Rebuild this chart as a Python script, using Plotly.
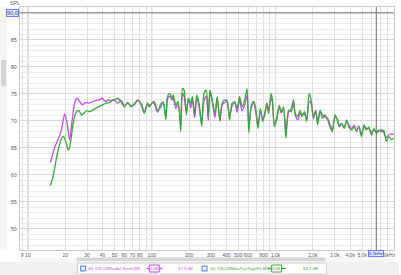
import plotly.graph_objects as go

# ---------------- data ----------------
freq_low_46 = [15.2, 16.5, 17.5, 18.6, 19.8, 20.7, 21.7, 22.8, 23.8, 24.9, 26.1, 27.5,
               29.2, 31.0, 33.4, 35.5, 37.8, 39.8, 42.3, 45.0, 47.0, 49.0]
spl_low_46 = [62.3, 65.2, 66.5, 68.3, 71.3, 69.6, 66.5, 70.2, 73.3, 74.2, 73.6, 73.0,
              73.4, 73.3, 73.6, 73.8, 73.9, 74.2, 73.6, 73.9, 73.6, 74.0]

freq_low_50 = [15.2, 16.0, 16.9, 17.9, 18.7, 19.3, 20.2, 21.2, 21.8, 22.4, 23.5, 24.6,
               25.8, 27.0, 28.3, 29.6, 31.4, 33.4, 35.5, 37.8, 40.2, 42.8, 45.5, 47.9, 50.0]
spl_low_50 = [58.0, 59.8, 62.8, 65.4, 66.8, 67.2, 66.2, 64.6, 65.2, 67.1, 70.2, 71.7,
              71.9, 71.1, 71.4, 71.9, 71.7, 72.0, 72.4, 72.7, 73.0, 73.3, 73.4, 73.8, 73.9]

freq_hi = [53, 56.7, 60, 64, 68, 72.4, 77, 82, 87, 92.5,
           95.5, 101.5, 104.7, 111.3, 118.6, 123.7, 130.1, 134.0, 140.1, 145.3, 148.9,
           156.5, 163.3, 171.6, 176.8, 182.4, 190.3, 197.5, 206.4, 212.7, 222.3, 230.7,
           240.7, 253.0, 264.1, 275.6, 285.9, 295.1, 307.9, 323.6, 337.7, 354.9, 370.4,
           389.4, 406.3, 424.8, 445.7, 468.5, 489.0, 511.1, 536.3, 563.7, 588.2, 607.0,
           633.4, 665.8, 694.8, 721.0, 753.7, 786.5, 815.9, 851.4,
           877, 920, 942, 976, 1018, 1071, 1111, 1159, 1210, 1272, 1337, 1395, 1439,
           1511, 1579, 1626, 1710, 1784, 1865, 1935, 2020, 2107, 2187, 2286, 2385,
           2507, 2631, 2751, 2870, 3017, 3148, 3267, 3408, 3583, 3739, 3909, 4103,
           4311, 4498, 4702, 4935, 5187, 5413, 5656, 5936, 6240, 6512, 6808, 7143,
           7467, 7834, 8191, 8594, 9032]

spl_hi_46 = [73.3, 73.8, 72.8, 73.3, 72.8, 73.0, 73.8, 73.3, 71.7, 73.3,
             72.9, 73.4, 73.2, 71.6, 73.2, 73.3, 70.6, 74.1, 74.6, 73.9, 74.2,
             72.3, 73.0, 69.2, 75.2, 74.5, 71.6, 74.0, 72.4, 74.1, 70.6, 74.3,
             72.8, 69.7, 73.8, 74.6, 70.1, 75.3, 73.5, 70.6, 74.2, 69.9, 73.0,
             73.4, 73.8, 70.8, 72.8, 73.3, 71.6, 73.9, 71.9, 73.1, 74.7, 69.4,
             72.2, 73.4, 71.2, 69.0, 71.9, 70.3, 71.0, 73.3,
             71.8, 74.2, 73.6, 69.6, 70.4, 72.6, 71.5, 72.3, 67.8, 71.6, 72.3, 73.9, 71.2,
             70.2, 71.6, 71.2, 71.3, 70.3, 73.6, 73.3, 70.4, 72.0, 69.8, 71.8, 71.2,
             70.7, 70.5, 69.3, 68.4, 70.6, 70.4, 69.2, 69.4, 68.9, 69.8, 69.2, 68.6,
             69.2, 68.0, 69.1, 67.6, 68.8, 68.6, 68.6, 67.9, 68.3, 68.0, 68.1, 68.4,
             67.8, 66.9, 67.4, 67.6, 67.5]

spl_hi_50 = [74.2, 73.5, 72.6, 73.5, 72.6, 73.2, 73.9, 73.0, 71.4, 73.2,
             72.6, 73.4, 73.6, 72.0, 72.6, 73.6, 70.2, 74.5, 75.1, 74.2, 74.8,
             72.9, 73.6, 68.0, 76.0, 75.7, 71.1, 74.2, 73.3, 74.5, 71.1, 74.8,
             73.3, 69.0, 75.1, 75.7, 70.8, 75.7, 73.9, 71.4, 74.5, 70.2, 73.3,
             73.9, 73.6, 70.2, 73.3, 73.6, 72.3, 74.5, 72.6, 73.9, 76.0, 67.8,
             72.6, 73.6, 72.0, 68.6, 72.3, 69.9, 71.4, 73.3,
             71.4, 75.1, 73.9, 68.9, 70.2, 72.9, 71.7, 72.6, 66.8, 72.0, 71.7, 73.5, 71.4,
             70.8, 72.0, 70.8, 71.7, 69.9, 75.1, 73.9, 70.8, 71.7, 69.3, 72.0, 70.5,
             71.1, 70.2, 68.9, 68.0, 71.1, 70.2, 68.9, 69.6, 68.6, 70.2, 68.9, 68.3,
             68.9, 68.3, 68.9, 67.1, 69.3, 68.3, 68.9, 67.4, 68.6, 67.7, 68.3, 68.0,
             68.3, 66.2, 67.1, 66.6, 66.8]

x_tick_vals = [9, 10, 20, 30, 40, 50, 60, 70, 80, 100, 200, 300, 400, 500, 600, 800,
               1000, 2000, 3000, 4000, 5000, 6000, 8000]
x_tick_text = ["9", "10", "20", "30", "40", "50", "60", "70", "80", "100", "200", "300",
               "400", "500", "600", "800", "1,0k", "2,0k", "3,0k", "4,0k", "5,0k", "6", "8,0kHz"]
x_minor_vals = [90, 700, 900, 7000, 9000]
y_tick_vals = [50, 55, 60, 65, 70, 75, 80, 85, 90]
y_tick_text = ["50", "55", "60", "65", "70", "75", "80", "85", ""]

name_46 = "46: DSC08Radtal-Sonif-M8"
name_50 = "50: DSC08WasPanTagaFe-M1"
level_46 = "67,3 dB"
level_50 = "66,2 dB"
smooth_txt = "1/48"

# ---------------- layout constants ----------------
W, H = 401, 275
L, R, T, B = 20, 5, 7, 25
PW, PH = W - L - R, H - T - B
PURPLE = "#c04ee0"
GREEN = "#38a838"
FONT = "Liberation Sans"


def px(xp):
    return (xp - L) / PW


def py(yp):
    return (H - B - yp) / PH


fig = go.Figure()
fig.add_trace(go.Scatter(x=freq_low_46 + freq_hi, y=spl_low_46 + spl_hi_46, mode="lines",
                         line=dict(color=PURPLE, width=1.3, shape="spline", smoothing=0.7),
                         name=name_46, hoverinfo="skip"))
fig.add_trace(go.Scatter(x=freq_low_50 + freq_hi, y=spl_low_50 + spl_hi_50, mode="lines",
                         line=dict(color=GREEN, width=1.3, shape="spline", smoothing=0.7),
                         name=name_50, hoverinfo="skip"))

shapes = []
# decade grid lines (darker)
for d in [10, 100, 1000]:
    shapes.append(dict(type="line", xref="x", yref="paper", x0=d, x1=d, y0=0, y1=1,
                       line=dict(color="#b4b4b4", width=1), layer="below"))
# cursor line
shapes.append(dict(type="line", xref="x", yref="paper", x0=6500, x1=6500, y0=0, y1=1,
                   line=dict(color="#6a6a6a", width=1)))
# 90 dB line
shapes.append(dict(type="line", xref="paper", yref="y", x0=0, x1=1, y0=90, y1=90,
                   line=dict(color="#8c8c8c", width=1.2)))
# left scrollbar
shapes.append(dict(type="rect", xref="paper", yref="paper", x0=px(0), x1=px(7), y0=py(250), y1=py(7),
                   fillcolor="#f5f5f5", line=dict(width=0), layer="below"))
shapes.append(dict(type="rect", xref="paper", yref="paper", x0=px(1), x1=px(6), y0=py(86), y1=py(60),
                   fillcolor="#d2d2d2", line=dict(width=0), layer="below"))
# bottom strip and scrollbar
shapes.append(dict(type="rect", xref="paper", yref="paper", x0=px(0), x1=px(401), y0=py(275), y1=py(262),
                   fillcolor="#f0f0f0", line=dict(width=0), layer="below"))
shapes.append(dict(type="rect", xref="paper", yref="paper", x0=px(20), x1=px(396), y0=py(262), y1=py(257.5),
                   fillcolor="#f6f6f6", line=dict(width=0), layer="below"))
shapes.append(dict(type="rect", xref="paper", yref="paper", x0=px(77), x1=px(327), y0=py(261), y1=py(257.5),
                   fillcolor="#d6d6d6", line=dict(width=0), layer="below"))
# legend box
shapes.append(dict(type="rect", xref="paper", yref="paper", x0=px(78), x1=px(328), y0=py(274), y1=py(263),
                   fillcolor="white", line=dict(color="#cfcfcf", width=1), layer="below"))
# checkboxes
for cx in [81, 203]:
    shapes.append(dict(type="rect", xref="paper", yref="paper", x0=px(cx), x1=px(cx + 5),
                       y0=py(271), y1=py(266), fillcolor="#eaf1ff", line=dict(color="#4f7fd6", width=1)))
# legend line samples with boxes
for (x0, x1, bx0, bx1, col) in [(147, 163, 150, 160, PURPLE), (269, 287, 273, 283, GREEN)]:
    shapes.append(dict(type="line", xref="paper", yref="paper", x0=px(x0), x1=px(x1),
                       y0=py(268.5), y1=py(268.5), line=dict(color=col, width=1.3)))
    shapes.append(dict(type="rect", xref="paper", yref="paper", x0=px(bx0), x1=px(bx1),
                       y0=py(272), y1=py(265), fillcolor="white", line=dict(color=col, width=1)))

ann = []
small = dict(family=FONT, size=5.5, color="#555555")
ann.append(dict(text="SPL", xref="paper", yref="paper", x=px(15), y=py(3), showarrow=False,
                font=small, xanchor="center", yanchor="middle"))
ann.append(dict(text="90,0", xref="paper", yref="y", x=px(19), y=90, showarrow=False,
                font=dict(family=FONT, size=5.5, color="#3344aa"), xanchor="right", yanchor="middle",
                bgcolor="#dfe5ff", bordercolor="#6a7cf0", borderwidth=1, borderpad=0))
ann.append(dict(text="6,5kHz", xref="x", yref="paper", x=3.8129, y=py(254), showarrow=False,
                font=dict(family=FONT, size=4.4, color="#3344aa"), xanchor="center", yanchor="middle",
                bgcolor="#dfe5ff", bordercolor="#6a7cf0", borderwidth=1, borderpad=0))
for (txt, xx, col) in [(name_46, 86, PURPLE), (level_46, 177, PURPLE),
                       (name_50, 209, GREEN), (level_50, 302, GREEN)]:
    ann.append(dict(text=txt, xref="paper", yref="paper", x=px(xx), y=py(268.5), showarrow=False,
                    font=dict(family=FONT, size=4.3, color=col), xanchor="left", yanchor="middle"))
for (txt, xx, col) in [(smooth_txt, 155, PURPLE), (smooth_txt, 278, GREEN)]:
    ann.append(dict(text=txt, xref="paper", yref="paper", x=px(xx), y=py(268.5), showarrow=False,
                    font=dict(family=FONT, size=4.2, color=col), xanchor="center", yanchor="middle"))

fig.update_layout(
    width=W, height=H,
    margin=dict(l=L, r=R, t=T, b=B, pad=0),
    paper_bgcolor="white", plot_bgcolor="white",
    showlegend=False,
    shapes=shapes, annotations=ann,
    xaxis=dict(type="log", range=[0.936, 3.956], tickmode="array",
               tickvals=x_tick_vals, ticktext=x_tick_text, tickangle=0,
               tickfont=dict(family=FONT, size=5, color="#555555"), ticks="", ticklabelstandoff=0,
               showgrid=True, gridcolor="#dedede", gridwidth=1,
               minor=dict(tickmode="array", tickvals=x_minor_vals, showgrid=True,
                          gridcolor="#dedede", gridwidth=1, ticks=""),
               showline=True, linecolor="#c8c8c8", mirror=True, zeroline=False, fixedrange=True),
    yaxis=dict(range=[46.1, 91.1], tickmode="array", tickvals=y_tick_vals, ticktext=y_tick_text,
               tickfont=small, ticks="", ticklabelstandoff=1,
               showgrid=True, gridcolor="#d6d6d6", gridwidth=1,
               minor=dict(dtick=1, showgrid=True, gridcolor="#ececec", gridwidth=1, ticks=""),
               showline=True, linecolor="#c8c8c8", mirror=True, zeroline=False, fixedrange=True),
)

fig.write_html("out.html")
